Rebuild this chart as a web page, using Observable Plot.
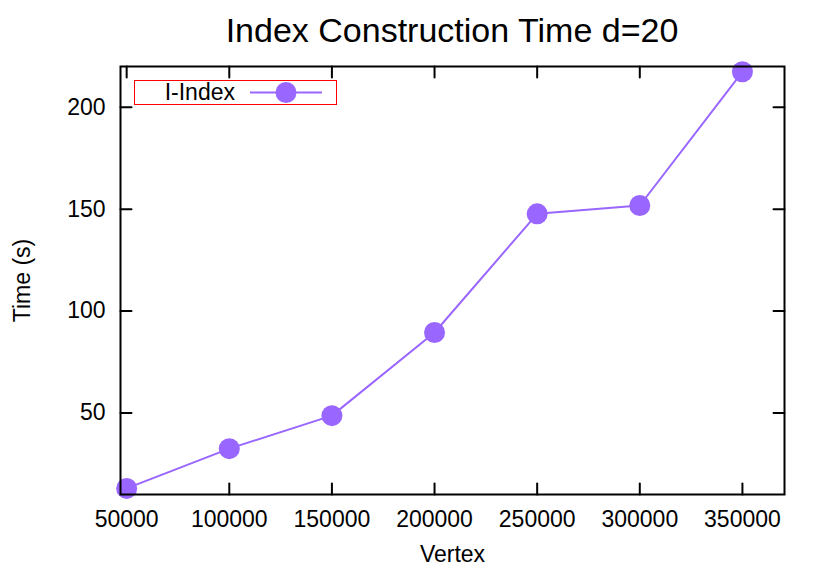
<!DOCTYPE html>
<html>
<head>
<meta charset="utf-8">
<script src="https://cdn.jsdelivr.net/npm/d3@7"></script>
<script src="https://cdn.jsdelivr.net/npm/@observablehq/plot@0.6"></script>
<style>
  html, body { margin: 0; padding: 0; background: #fff; }
  #wrap { position: relative; width: 831px; height: 576px; font-family: "Liberation Sans", Arial, Helvetica, sans-serif; }
  #title { position: absolute; left: 120px; width: 664px; top: 13px; text-align: center; font-size: 34px; line-height: 34px; color: #000; }
  #legend { position: absolute; left: 134px; top: 80px; width: 201px; height: 23px; border: 1px solid #ff0000; }
  #legend .lab { position: absolute; right: 101px; top: 0; font-size: 23px; line-height: 23px; color: #000; }
  #legend svg { position: absolute; left: 115px; top: 0; }
</style>
</head>
<body>
<div id="wrap">
  <div id="title"></div>
  <div id="chart"></div>
  <div id="legend"><span class="lab"></span><svg width="74" height="23"></svg></div>
</div>
<script>
const titleText = "Index Construction Time d=20";
const xLabel = "Vertex";
const yLabel = "Time (s)";
const seriesName = "I-Index";
const vertices = [50000, 100000, 150000, 200000, 250000, 300000, 350000];
const times = [13, 32.5, 48.7, 89.5, 147.7, 151.8, 217.4];
const xTicks = [50000, 100000, 150000, 200000, 250000, 300000, 350000];
const yTicks = [50, 100, 150, 200];
const color = "#9966ff";

const data = vertices.map((v, i) => ({vertex: v, time: times[i]}));

document.getElementById("title").textContent = titleText;
document.querySelector("#legend .lab").textContent = seriesName;

const tickShape = {draw(ctx, l) { ctx.moveTo(0, 0); ctx.lineTo(0, -l); }};
const tickOpts = {length: 11, anchor: "start", shape: tickShape, stroke: "black", strokeWidth: 2};

const chart = Plot.plot({
  width: 831,
  height: 576,
  marginLeft: 120,
  marginRight: 47,
  marginTop: 66,
  marginBottom: 82,
  style: {fontFamily: '"Liberation Sans", Arial, Helvetica, sans-serif', background: "#fff", color: "#000"},
  x: {domain: [47000, 370500]},
  y: {domain: [10, 220]},
  marks: [
    Plot.axisX({ticks: xTicks, tickSize: 0, tickPadding: 16, tickFormat: d => String(d), fontSize: 23,
      label: xLabel, labelArrow: "none", labelAnchor: "center", labelOffset: 67}),
    Plot.axisY({ticks: yTicks, tickSize: 0, tickPadding: 15, tickFormat: d => String(d), fontSize: 23,
      label: yLabel, labelArrow: "none", labelAnchor: "center", labelOffset: 107}),
    Plot.vector(xTicks, {x: d => d, frameAnchor: "bottom", rotate: 0, ...tickOpts}),
    Plot.vector(xTicks, {x: d => d, frameAnchor: "top", rotate: 180, ...tickOpts}),
    Plot.vector(yTicks, {y: d => d, frameAnchor: "left", rotate: 90, ...tickOpts}),
    Plot.vector(yTicks, {y: d => d, frameAnchor: "right", rotate: 270, ...tickOpts}),
    Plot.line(data, {x: "vertex", y: "time", stroke: color, strokeWidth: 2}),
    Plot.dot(data, {x: "vertex", y: "time", r: 10.5, fill: color, stroke: "none"}),
    Plot.frame({stroke: "black", strokeWidth: 2})
  ]
});
document.getElementById("chart").appendChild(chart);

// legend sample (line + marker)
const ls = d3.select("#legend svg");
ls.append("line").attr("x1", 0).attr("x2", 72).attr("y1", 11.5).attr("y2", 11.5)
  .attr("stroke", color).attr("stroke-width", 2);
ls.append("circle").attr("cx", 36).attr("cy", 11.5).attr("r", 10.5).attr("fill", color);
</script>
</body>
</html>
